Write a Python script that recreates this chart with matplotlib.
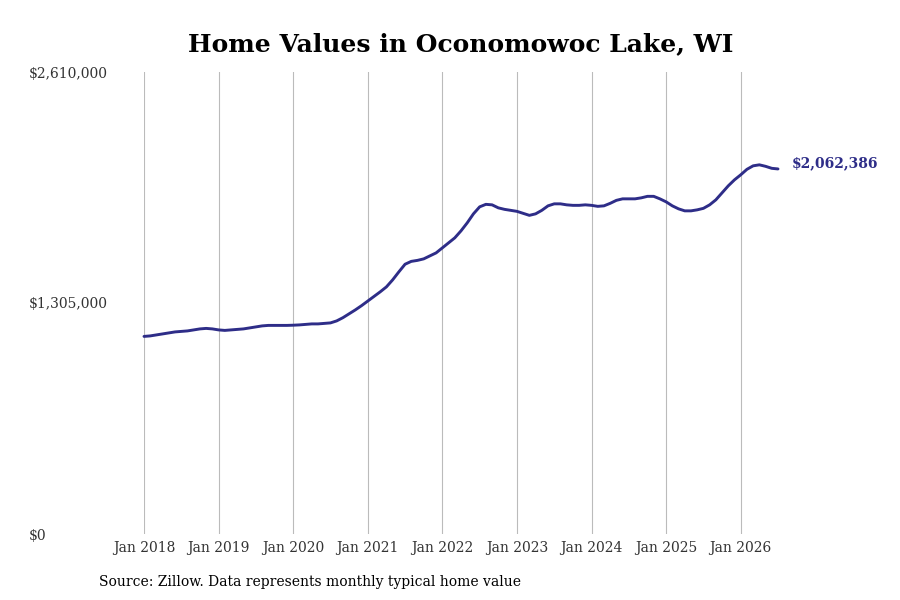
import matplotlib
matplotlib.use("Agg")
import matplotlib.pyplot as plt
import numpy as np

# Valores mensuales (Jan 2018 - Jul 2026)
v2018 = [1116270, 1119100, 1124750, 1130400, 1136050, 1141700,
         1144530, 1147360, 1153010, 1158660, 1161490, 1158660]
v2019 = [1153010, 1150180, 1153010, 1155830, 1158660, 1164310,
         1169960, 1175620, 1178440, 1178440, 1178440, 1178440]
v2020 = [1179570, 1181270, 1184090, 1186920, 1186920, 1189750,
         1192570, 1203880, 1222000, 1244000, 1266050, 1290000]
v2021 = [1316000, 1342000, 1368000, 1396040, 1435610, 1480820,
         1524000, 1540170, 1545820, 1554300, 1571260, 1588210]
v2022 = [1616470, 1644730, 1672990, 1712560, 1757770, 1808640,
         1848200, 1862330, 1859510, 1842550, 1834070, 1828420]
v2023 = [1822770, 1811470, 1800160, 1808640, 1828420, 1853860,
         1865160, 1865160, 1859510, 1856680, 1856680, 1859510]
v2024 = [1856680, 1851030, 1853860, 1867990, 1884940, 1893420,
         1893420, 1893420, 1899070, 1907550, 1907550, 1893420]
v2025 = [1876460, 1853860, 1836900, 1825600, 1825600, 1831250,
         1839730, 1859510, 1887770, 1927330, 1966900, 2000810]
v2026 = [2029070, 2060150, 2079940, 2085590, 2077110, 2065810, 2062386]

values = v2018 + v2019 + v2020 + v2021 + v2022 + v2023 + v2024 + v2025 + v2026
months = np.arange(len(values))

xtick_pos = [0, 12, 24, 36, 48, 60, 72, 84, 96]
xtick_labels = ["Jan 2018", "Jan 2019", "Jan 2020", "Jan 2021", "Jan 2022",
                "Jan 2023", "Jan 2024", "Jan 2025", "Jan 2026"]
ytick_pos = [0, 1305000, 2610000]
ytick_labels = ["$0", "$1,305,000", "$2,610,000"]

color_linea = "#2e2d88"
plt.rcParams["font.family"] = "DejaVu Serif"

fig = plt.figure(figsize=(9, 6), dpi=100)
ax = fig.add_axes([144 / 900, 1 - 534 / 600, (778 - 144) / 900, (534 - 72) / 600])

ax.plot(months, values, color=color_linea, lw=2.1, clip_on=False,
        solid_capstyle="round", solid_joinstyle="round")

ax.set_xlim(0, len(values) - 1)
ax.set_ylim(0, 2610000)

ax.set_xticks(xtick_pos)
ax.set_xticklabels(xtick_labels)
ax.set_yticks(ytick_pos)
ax.set_yticklabels(ytick_labels)

ax.tick_params(axis="x", length=0, pad=5, labelsize=10, labelcolor="#333333")
ax.tick_params(axis="y", length=0, pad=83, labelsize=10, labelcolor="#333333")
for lab in ax.get_yticklabels():
    lab.set_horizontalalignment("left")

ax.grid(axis="x", color="#bbbbbb", lw=0.8)
ax.grid(axis="y", visible=False)
for s in ax.spines.values():
    s.set_visible(False)

# Etiqueta del último valor
ax.annotate(f"${values[-1]:,}", xy=(months[-1], values[-1]),
            xytext=(10, 4), textcoords="offset points",
            ha="left", va="center", fontsize=10, fontweight="bold",
            color=color_linea, annotation_clip=False)

ax.set_title("Home Values in Oconomowoc Lake, WI", fontsize=18,
             fontweight="bold", pad=15)

fig.text(99 / 900, 1 - 582 / 600, "Source: Zillow. Data represents monthly typical home value",
         fontsize=10, ha="left", va="center", color="black")

fig.savefig("out.png", dpi=100)
